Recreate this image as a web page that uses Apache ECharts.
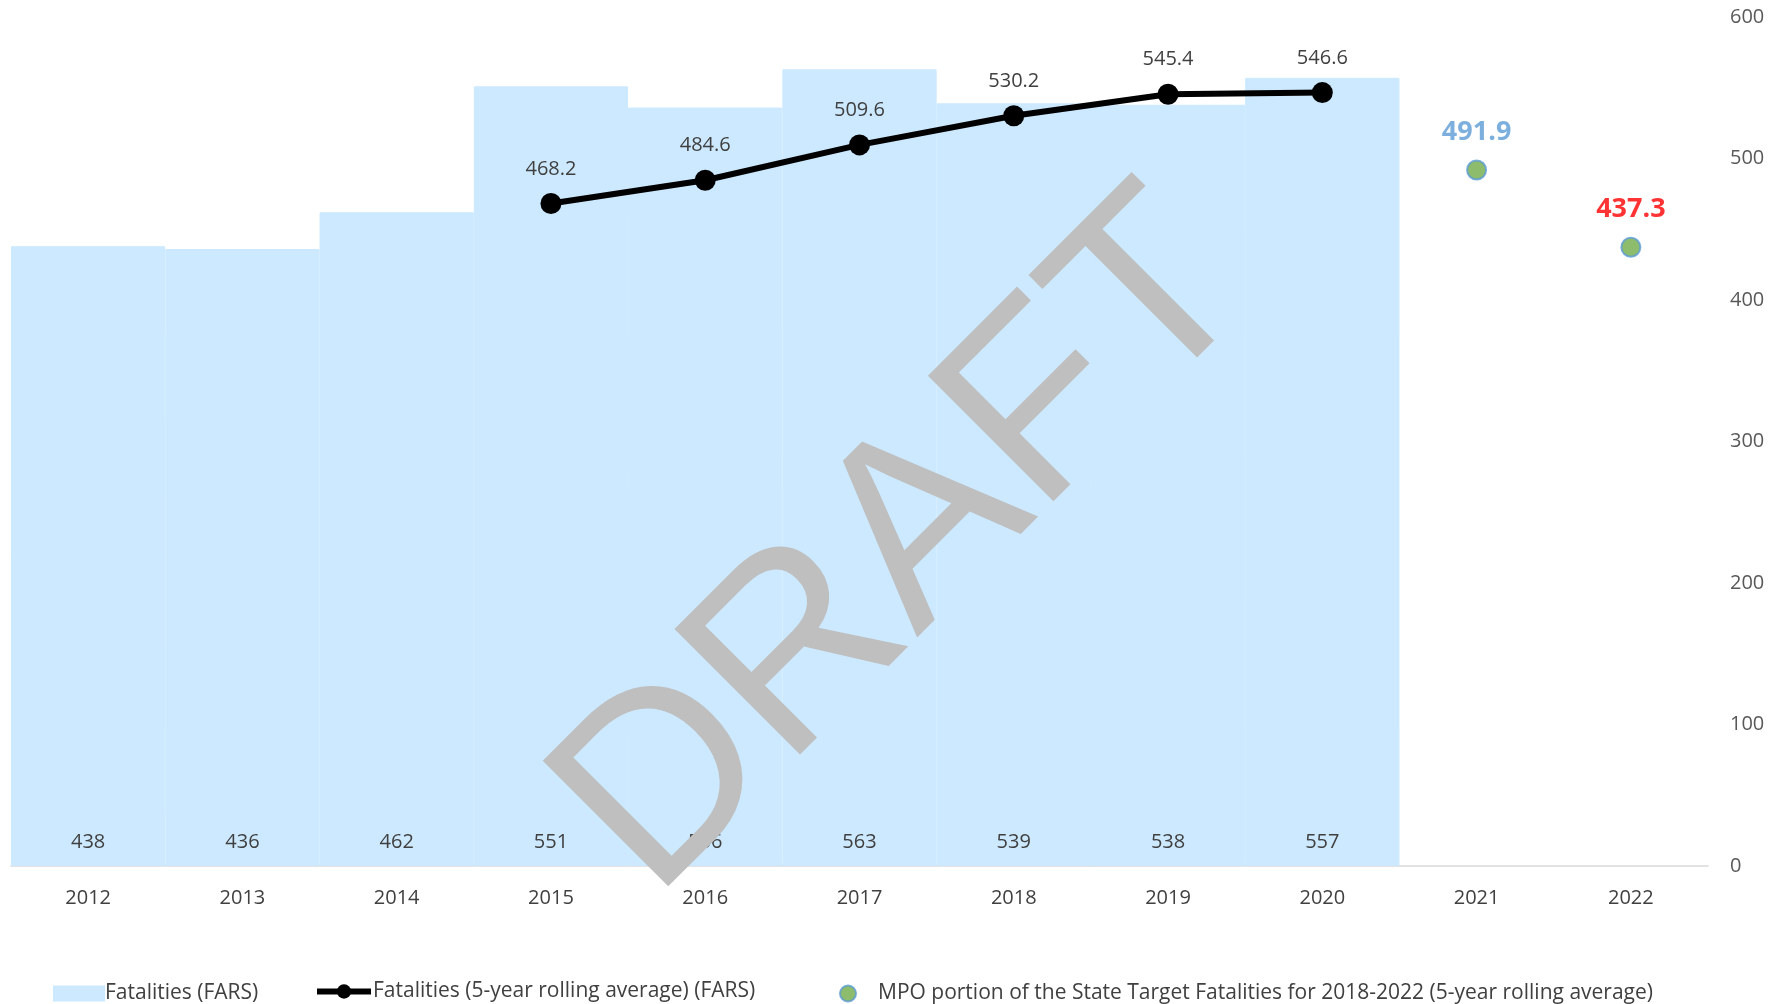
<!DOCTYPE html>
<html>
<head>
<meta charset="utf-8">
<title>Fatalities</title>
<script src="https://cdn.jsdelivr.net/npm/echarts@6/dist/echarts.min.js"></script>
<style>
html, body { margin: 0; padding: 0; background: #fff; }
#chart { width: 1789px; height: 1004px; }
</style>
</head>
<body>
<div id="chart"></div>
<script>
// Years on the category axis
const years = ['2012', '2013', '2014', '2015', '2016', '2017', '2018', '2019', '2020', '2021', '2022'];
// Annual fatalities (FARS)
const fatalities = [438, 436, 462, 551, 536, 563, 539, 538, 557, null, null];
// Five-year rolling average (FARS)
const rollingAvg = [null, null, null, 468.2, 484.6, 509.6, 530.2, 545.4, 546.6, null, null];
// MPO portion of the state target
const targets = [null, null, null, null, null, null, null, null, null, 491.9, 437.3];
const targetLabelColors = ['#5B9BD5', '#FF0000'];
// Value axis ticks
const yTicks = [0, 100, 200, 300, 400, 500, 600];

const FONT = '"Open Sans", "Noto Sans", sans-serif';
const TEXT = '#404040';

const chart = echarts.init(document.getElementById('chart'));

let targetIdx = 0;
const targetData = targets.map(v => {
  if (v == null) return null;
  const c = targetLabelColors[targetIdx++];
  return { value: v, label: { color: c } };
});

chart.setOption({
  animation: false,
  grid: { left: 11, right: 81, top: 17, bottom: 138 },
  xAxis: {
    type: 'category',
    data: years,
    boundaryGap: true,
    axisLine: { show: true, lineStyle: { color: '#D9D9D9', width: 1.5 } },
    axisTick: { show: false },
    axisLabel: { color: TEXT, fontSize: 20, fontFamily: FONT, margin: 22 }
  },
  yAxis: {
    type: 'value',
    position: 'right',
    min: yTicks[0],
    max: yTicks[yTicks.length - 1],
    interval: 100,
    splitLine: { show: false },
    axisLine: { show: false },
    axisTick: { show: false },
    axisLabel: { color: '#595959', fontSize: 20, fontFamily: FONT, margin: 22, align: 'left' }
  },
  legend: [
    {
      left: 48, top: 978,
      data: [{ name: 'Fatalities (FARS)', icon: 'rect' }],
      itemWidth: 50, itemHeight: 14, itemGap: 0,
      textStyle: { color: TEXT, fontSize: 21, fontFamily: FONT, padding: [0, 0, 0, -4] }
    },
    {
      left: 309, top: 976,
      data: ['Fatalities (5-year rolling average) (FARS)'],
      itemWidth: 54, itemHeight: 18,
      lineStyle: { width: 6 },
      textStyle: { color: TEXT, fontSize: 21, fontFamily: FONT, padding: [0, 0, 0, -3] }
    },
    {
      left: 834, top: 978,
      data: [{ name: 'MPO portion of the State Target Fatalities for 2018-2022 (5-year rolling average)', icon: 'circle' }],
      itemWidth: 16, itemHeight: 16,
      textStyle: { color: TEXT, fontSize: 21, fontFamily: FONT, padding: [0, 0, 0, 17] }
    }
  ],
  series: [
    {
      name: 'Fatalities (FARS)',
      type: 'bar',
      data: fatalities,
      barCategoryGap: '0%',
      barGap: '-100%',
      itemStyle: { color: '#CCE9FF', borderColor: '#CCE9FF', borderWidth: 1 },
      label: {
        show: true,
        position: 'insideBottom',
        distance: 14,
        color: TEXT,
        fontSize: 20,
        fontFamily: FONT
      },
      z: 1
    },
    {
      name: 'Fatalities (5-year rolling average) (FARS)',
      type: 'line',
      data: rollingAvg,
      connectNulls: false,
      symbol: 'circle',
      symbolSize: 21,
      lineStyle: { color: '#000', width: 6 },
      itemStyle: { color: '#000' },
      label: {
        show: true,
        position: 'top',
        distance: 14,
        color: TEXT,
        fontSize: 20,
        fontFamily: FONT
      },
      z: 3
    },
    {
      name: 'MPO portion of the State Target Fatalities for 2018-2022 (5-year rolling average)',
      type: 'scatter',
      data: targetData,
      symbol: 'circle',
      symbolSize: 19,
      itemStyle: { color: '#70AD47', borderColor: '#5B9BD5', borderWidth: 2 },
      label: {
        show: true,
        position: 'top',
        distance: 14,
        fontSize: 27,
        fontWeight: 'bold',
        fontFamily: FONT
      },
      z: 4
    }
  ],
  graphic: [
    {
      type: 'text',
      x: 907,
      y: 547,
      rotation: Math.PI / 4,
      originX: 0,
      originY: 0,
      style: {
        text: 'DRAFT',
        fill: '#BFBFBF',
        font: '400 258px "Liberation Sans", Arial, sans-serif',
        align: 'center',
        verticalAlign: 'middle'
      },
      z: 100
    }
  ]
});
</script>
</body>
</html>
